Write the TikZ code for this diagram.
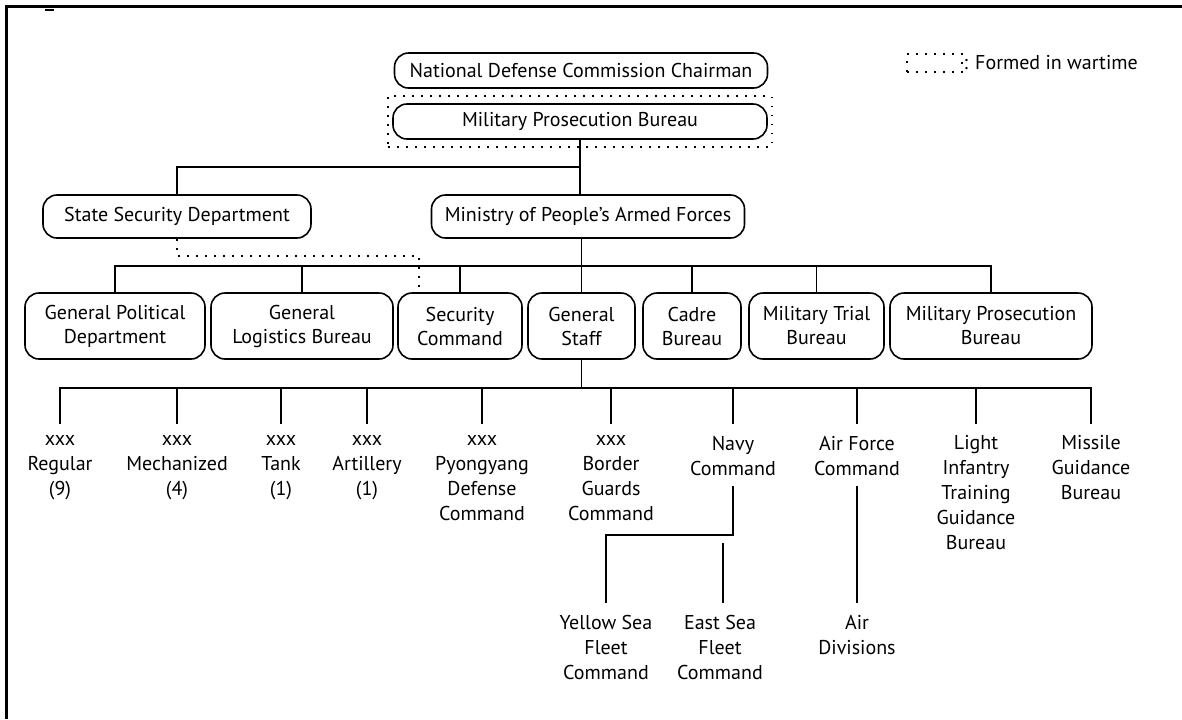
\documentclass[tikz,border=0pt]{standalone}
\usepackage{fontspec}
\setmainfont{PT Sans}
\usetikzlibrary{fit}

\begin{document}
\begin{tikzpicture}[x=0.5pt,y=-0.5pt,line width=0.8pt]
\tikzstyle{office}=[draw,rounded corners=7pt,align=center,inner sep=0pt,font=\fontsize{10}{12}\selectfont];
\tikzstyle{leaf}=[anchor=north,align=center,inner xsep=3pt,inner ysep=5.5pt,font=\fontsize{10}{12.5}\selectfont,execute at begin node=\strut];
\tikzstyle{wartime}=[draw,line width=0.9pt,dash pattern=on 0.9pt off 3.6pt];
\useasboundingbox (0,0) rectangle (1182,719);
\draw[line width=1.5pt] (6,719) -- (6,6) -- (1182,6);
\draw (45,10) -- (54,10);

% top
\node[office,minimum width=186.5pt,minimum height=17.5pt] (ndc) at (581,70.5) {National Defense Commission Chairman};
\node[office,minimum width=187pt,minimum height=17.5pt] (mpb1) at (580,121.5) {Military Prosecution Bureau};
\node[wartime,fit=(mpb1),inner xsep=2pt,inner ysep=3.5pt] (war) {};
\node[wartime,minimum width=27.5pt,minimum height=9pt] (key) at (934.5,63) {};
\node[anchor=west,inner sep=0pt,font=\fontsize{10}{12}\selectfont] (keytext) at (key.east) {: Formed in wartime};

% second row
\node[office,minimum width=134pt,minimum height=21.5pt] (ssd) at (177,216.5) {State Security Department};
\node[office,minimum width=156.5pt,minimum height=21.5pt] (mod) at (588,216.5) {Ministry of People’s Armed Forces};
\coordinate (bus1) at (0,167);
\draw (mpb1.south) -- (mpb1.south |- mod.north);
\draw (ssd.north) |- (bus1 -| mpb1.south);

% third row
\node[office,minimum width=90pt,minimum height=33pt] (gpd) at (115,326) {General Political\\Department};
\node[office,minimum width=91pt,minimum height=33pt] (glb) at (302,326) {General\\Logistics Bureau};
\node[office,minimum width=62pt,minimum height=33pt] (sec) at (460,326) {Security\\Command};
\node[office,minimum width=53.5pt,minimum height=33pt] (gstaff) at (581.5,326) {General\\Staff};
\node[office,minimum width=49pt,minimum height=33pt] (cadre) at (692,326) {Cadre\\Bureau};
\node[office,minimum width=67.5pt,minimum height=33pt] (trial) at (816.5,326) {Military Trial\\Bureau};
\node[office,minimum width=101pt,minimum height=33pt] (mpb2) at (991,326) {Military Prosecution\\Bureau};
\coordinate (bus2) at (0,266);
\draw (gstaff.north |- mod.south) -- (gstaff.north);
\draw (gpd.north) |- (bus2 -| mpb2.north) -- (mpb2.north);
\foreach \n in {glb,sec,cadre,trial}
  \draw (\n.north) -- (\n.north |- bus2);
\draw[wartime] (ssd.south) -- ++(0,17) -| ([xshift=-20.5pt]sec.north);

% fourth row
\node[leaf] (reg) at (60,424) {xxx\\Regular\\(9)};
\node[leaf] (mech) at (177,424) {xxx\\Mechanized\\(4)};
\node[leaf] (tank) at (281,424) {xxx\\Tank\\(1)};
\node[leaf] (arty) at (367,424) {xxx\\Artillery\\(1)};
\node[leaf] (pyong) at (482,424) {xxx\\Pyongyang\\Defense\\Command};
\node[leaf] (border) at (611,424) {xxx\\Border\\Guards\\Command};
\node[leaf] (navy) at (733,424) {Navy\\Command};
\node[leaf] (air) at (857,424) {Air Force\\Command};
\node[leaf] (light) at (976,424) {Light\\Infantry\\Training\\Guidance\\Bureau};
\node[leaf] (mis) at (1091,424) {Missile\\Guidance\\Bureau};
\coordinate (bus3) at (0,388);
\draw (gstaff.south) -- (gstaff.south |- bus3);
\draw (reg.north) |- (bus3 -| mis.north) -- (mis.north);
\foreach \n in {mech,tank,arty,pyong,border,navy,air,light}
  \draw (\n.north) -- (\n.north |- bus3);

% navy and air force
\node[leaf] (yellow) at (606,603) {Yellow Sea\\Fleet\\Command};
\node[leaf] (east) at (720,603) {East Sea\\Fleet\\Command};
\node[leaf] (airdiv) at (857,603) {Air\\Divisions};
\coordinate (bus4) at (0,543);
\draw ([yshift=4pt]navy.south) -- ([yshift=4pt]navy.south |- bus4) -| (yellow.north);
\draw ([xshift=1.5pt]east.north) -- ([xshift=1.5pt]east.north |- bus4);
\draw ([yshift=4pt]air.south) -- (airdiv.north);
\end{tikzpicture}
\end{document}
